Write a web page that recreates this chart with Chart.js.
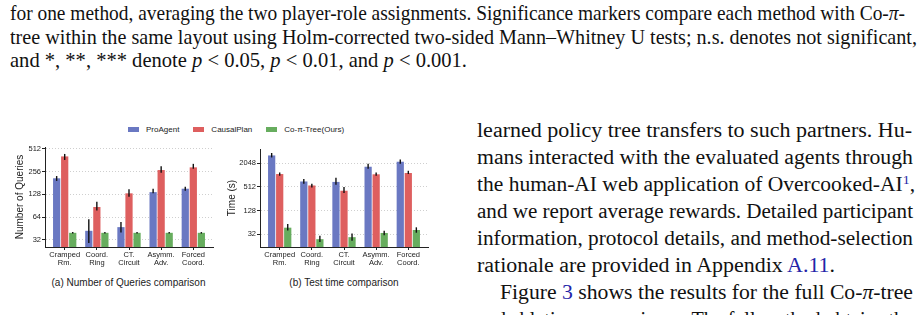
<!DOCTYPE html>
<html>
<head>
<meta charset="utf-8">
<script src="https://cdn.jsdelivr.net/npm/chart.js@4.4.1/dist/chart.umd.min.js"></script>
<style>
html, body { margin: 0; padding: 0; background: #fff; }
body { width: 923px; height: 315px; overflow: hidden; position: relative; }
.ln { position: absolute; white-space: nowrap; font-family: 'Liberation Serif', 'Times New Roman', serif; color: #111; transform-origin: 0 0; }
.cap { font-size: 21px; line-height: 21px; }
.col { font-size: 20px; line-height: 20px; }
.ref { color: #2424a8; }
.up { position: relative; top: -7px; font-size: 13px; }
canvas { position: absolute; }
#legend { position: absolute; left: 128px; top: 123.5px; height: 12px; display: flex; align-items: center;
  font-family: 'Liberation Sans', Arial, sans-serif; font-size: 8px; color: #222; }
#legend .it { display: flex; align-items: center; margin-right: 14px; }
#legend .sw { width: 11px; height: 5px; margin-right: 7px; }
.sub { position: absolute; font-family: 'Liberation Sans', Arial, sans-serif; font-size: 10px; color: #222;
  transform: translateX(-50%); white-space: nowrap; }
</style>
</head>
<body>

<!-- caption text above the figure -->
<div class="ln cap" data-x="10" data-base="21" data-w="895">for one method, averaging the two player-role assignments. Significance markers compare each method with Co-<i>π</i>-</div>
<div class="ln cap" data-x="10" data-base="44.3" data-w="907">tree within the same layout using Holm-corrected two-sided Mann–Whitney U tests; n.s. denotes not significant,</div>
<div class="ln cap" data-x="10" data-base="67.7" data-w="457">and *, **, *** denote <i>p</i> &lt; 0.05, <i>p</i> &lt; 0.01, and <i>p</i> &lt; 0.001.</div>

<!-- right column text -->
<div class="ln col" data-x="477" data-base="136.7" data-w="435">learned policy tree transfers to such partners. Hu-</div>
<div class="ln col" data-x="477" data-base="164" data-w="436">mans interacted with the evaluated agents through</div>
<div class="ln col" data-x="477" data-base="191" data-w="438">the human-AI web application of Overcooked-AI<span class="ref up">1</span>,</div>
<div class="ln col" data-x="477" data-base="218" data-w="436">and we report average rewards. Detailed participant</div>
<div class="ln col" data-x="477" data-base="245" data-w="436">information, protocol details, and method-selection</div>
<div class="ln col" data-x="477" data-base="271.7" data-w="358">rationale are provided in Appendix <span class="ref">A.11</span>.</div>
<div class="ln col" data-x="500" data-base="299" data-w="413">Figure <span class="ref">3</span> shows the results for the full Co-<i>π</i>-tree</div>
<div class="ln col" data-x="477" data-base="326" data-w="436">and ablation comparisons. The full method obtains the</div>

<div id="legend"></div>
<canvas id="queriesChart" width="222" height="132" style="left:0px;top:140px"></canvas>
<canvas id="timeChart" width="222" height="132" style="left:222px;top:140px"></canvas>
<div class="sub" style="left:128.5px;top:276.5px">(a) Number of Queries comparison</div>
<div class="sub" style="left:344px;top:276.5px">(b) Test time comparison</div>

<script>
// Datos del grafico
const layouts = [['Cramped', 'Rm.'], ['Coord.', 'Ring'], ['CT.', 'Circuit'], ['Asymm.', 'Adv.'], ['Forced', 'Coord.']]
const methods = ['ProAgent', 'CausalPlan', 'Co-π-Tree(Ours)']
const methodColors = ['#6a78c2', '#de5f5f', '#67ad5e']

// (a) numero de consultas
const proAgentQueries = [209, 42, 47, 137, 152]
const causalPlanQueries = [408, 87, 132, 269, 292]
const coTreeQueries = [39.5, 39.5, 39.5, 39.5, 39.5]
const proAgentQueriesErr = [[193, 224], [29, 60], [40, 55], [132, 152], [143, 161]]
const causalPlanQueriesErr = [[366, 440], [78, 102], [119, 149], [248, 303], [280, 325]]
const coTreeQueriesErr = [[38.6, 40.4], [38.6, 40.4], [38.6, 40.4], [38.6, 40.4], [38.6, 40.4]]
const queryTicks = [32, 64, 128, 256, 512]
const queryRange = [25.6, 544]

// (b) tiempo de test
const proAgentTime = [3190, 698, 680, 1650, 2210]
const causalPlanTime = [1077, 552, 406, 1060, 1143]
const coTreeTime = [47, 24, 27, 34.5, 41]
const proAgentTimeErr = [[2840, 3680], [610, 805], [574, 867], [1470, 1965], [1965, 2520]]
const causalPlanTimeErr = [[975, 1180], [490, 610], [354, 505], [975, 1180], [1077, 1304]]
const coTreeTimeErr = [[40, 58], [20.4, 29.2], [21.8, 33.3], [30.2, 39.5], [35, 48]]
const timeTicks = [32, 128, 512, 2048]
const timeRange = [15.2, 4650]

// Ajusta cada linea de texto al ancho medido
document.querySelectorAll('.ln').forEach(el => {
    const size = parseFloat(getComputedStyle(el).fontSize)
    el.style.left = el.dataset.x + 'px'
    el.style.top = (parseFloat(el.dataset.base) - 0.8375 * size) + 'px'
    const natural = el.getBoundingClientRect().width
    el.style.transform = `scaleX(${parseFloat(el.dataset.w) / natural})`
})

// Leyenda compartida
document.getElementById('legend').innerHTML = methods.map((m, i) =>
    `<div class="it"><div class="sw" style="background:${methodColors[i]}"></div>${m}</div>`).join('')

// Barras de error dibujadas con las escalas del grafico
const errorBars = {
    id: 'errorBars',
    afterDatasetsDraw(chart) {
        const { ctx } = chart
        const y = chart.scales.y
        ctx.save()
        ctx.strokeStyle = '#111'
        ctx.lineWidth = 1.4
        chart.data.datasets.forEach((ds, i) => {
            chart.getDatasetMeta(i).data.forEach((bar, j) => {
                const [lo, hi] = ds.err[j]
                ctx.beginPath()
                ctx.moveTo(bar.x, y.getPixelForValue(lo))
                ctx.lineTo(bar.x, y.getPixelForValue(hi))
                ctx.stroke()
            })
        })
        ctx.restore()
    }
}

const tickFont = { family: "'Liberation Sans', Arial, sans-serif", size: 7.5, lineHeight: 1.1 }

// quita el relleno que Chart.js agrega por las etiquetas
const noPadding = s => { s.paddingLeft = 0; s.paddingRight = 0; s.paddingTop = 0; s.paddingBottom = 0 }

const renderGrafico = (canvas, series, errs, ticks, range, title, box) => {
    new Chart(canvas, {
        type: 'bar',
        data: {
            datasets: series.map((vals, i) => ({
                label: methods[i],
                data: vals.map((v, j) => ({ x: j, y: v })),
                err: errs[i],
                backgroundColor: methodColors[i],
                categoryPercentage: 0.75,
                barPercentage: 0.9
            }))
        },
        options: {
            responsive: false,
            animation: false,
            layout: { padding: { top: box.top, right: box.right, left: 0, bottom: 0 } },
            plugins: { legend: { display: false }, tooltip: { enabled: false } },
            scales: {
                x: {
                    type: 'linear',
                    offset: false,
                    min: -0.6125,
                    max: 4.6125,
                    afterBuildTicks: s => { s.ticks = layouts.map((_, i) => ({ value: i })) },
                    afterFit: s => { s.height = 25; noPadding(s) },
                    ticks: { callback: v => layouts[v], autoSkip: false, maxRotation: 0, padding: 1, color: '#222', font: tickFont },
                    grid: { offset: false, drawOnChartArea: false, tickLength: 3, tickColor: '#222' },
                    border: { color: '#222', width: 1 }
                },
                y: {
                    type: 'logarithmic',
                    min: range[0],
                    max: range[1],
                    afterBuildTicks: s => { s.ticks = ticks.map(v => ({ value: v })) },
                    afterFit: s => { s.width = box.yWidth; noPadding(s) },
                    ticks: { callback: v => String(v), padding: 1, color: '#222', font: tickFont },
                    grid: { color: '#cfcfcf', lineWidth: 1, tickLength: 3, tickColor: '#222', tickBorderDash: [] },
                    border: { color: '#222', width: 1, dash: [1, 2] },
                    title: {
                        display: true, text: title, color: '#222',
                        font: { family: "'Liberation Sans', Arial, sans-serif", size: 10 },
                        padding: { top: box.titlePad, bottom: 0 }
                    }
                }
            }
        },
        plugins: [errorBars]
    })
}

renderGrafico(document.getElementById('queriesChart'),
    [proAgentQueries, causalPlanQueries, coTreeQueries],
    [proAgentQueriesErr, causalPlanQueriesErr, coTreeQueriesErr],
    queryTicks, queryRange, 'Number of Queries',
    { top: 7, right: 9, yWidth: 45, titlePad: 14 })

renderGrafico(document.getElementById('timeChart'),
    [proAgentTime, causalPlanTime, coTreeTime],
    [proAgentTimeErr, causalPlanTimeErr, coTreeTimeErr],
    timeTicks, timeRange, 'Time (s)',
    { top: 9, right: 16, yWidth: 38, titlePad: 4 })
</script>
</body>
</html>
